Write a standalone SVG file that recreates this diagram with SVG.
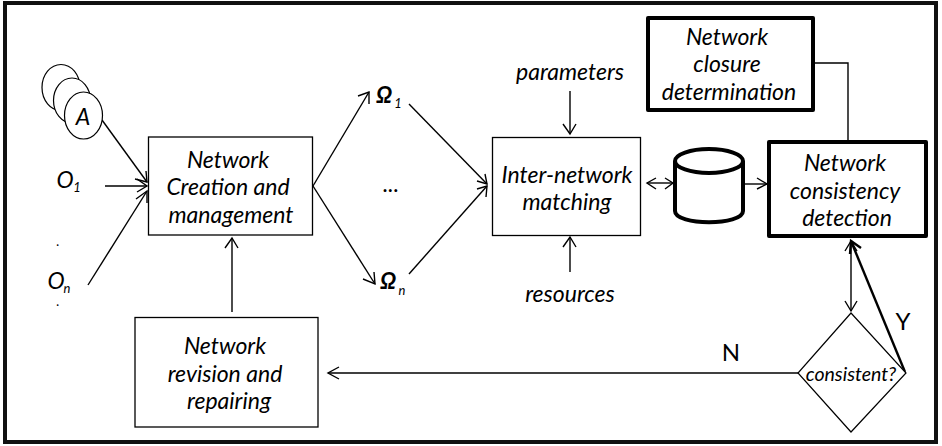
<svg xmlns="http://www.w3.org/2000/svg" width="942" height="446" viewBox="0 0 942 446">
<style>
text{font-family:Lato,"Liberation Sans",sans-serif;font-style:italic;font-size:23px;fill:#000;text-anchor:middle}
.up{font-style:normal;font-size:24px}
.sub{font-size:13px}
.box{fill:#fff;stroke:#000;stroke-width:1.3}
.thick{fill:#fff;stroke:#000;stroke-width:4;stroke-linejoin:round}
.c{fill:none;stroke:#000;stroke-width:1.4}
.b{fill:none;stroke:#000;stroke-width:2.4}
.h{fill:none;stroke:#000;stroke-width:1.4}
</style>
<rect x="5" y="3" width="931" height="439" fill="#fff" stroke="#111" stroke-width="4"/>
<g id="connectors">
<path class="c" d="M102 120L147 182"/><path class="h" d="M135 179L147 182L146 171"/>
<path class="c" d="M105 186H147"/><path class="h" d="M137 179L147 186L137 192"/>
<path class="c" d="M88 285L147 191"/><path class="h" d="M136 199L147 191L147 203"/>
<path class="c" d="M232 312V238"/><path class="h" d="M225 248L232 238L238 248"/>
<path class="c" d="M313 186L369 92"/><path class="h" d="M358 96L369 92L369 104"/>
<path class="c" d="M313 186L375 284"/><path class="h" d="M363 279L375 284L374 272"/>
<path class="c" d="M409 104L487 184"/><path class="h" d="M477 181L487 184L485 174"/>
<path class="c" d="M409 274L487 186"/><path class="h" d="M477 189L487 186L486 197"/>
<path class="c" d="M570 91V134"/><path class="h" d="M563 124L570 134L576 124"/>
<path class="c" d="M570 272V237"/><path class="h" d="M563 247L570 237L576 247"/>
<path class="c" d="M647 183H673"/><path class="h" d="M656 178L647 183L656 189M665 178L673 183L665 189"/>
<path class="c" d="M743 184H767"/><path class="h" d="M757 178L767 184L757 189"/>
<path class="c" d="M814 63H848V142"/>
<path class="c" d="M851 241V311"/><path class="h" d="M845 301L851 311L857 301M845 251L851 241L857 251"/>
<path class="b" d="M905 372L851 241"/><path class="b" d="M850 254L851 241L861 248"/>
<path class="c" d="M798 373H328"/><path class="h" d="M339 367L328 373L339 379"/>
</g>
<g id="agent-3"><ellipse cx="61" cy="87.5" rx="19" ry="23" fill="#fff" stroke="#000" stroke-width="1.2"/></g>
<g id="agent-2"><ellipse cx="72" cy="100.5" rx="18.5" ry="22.5" fill="#fff" stroke="#000" stroke-width="1.2"/></g>
<g id="agent-1"><ellipse cx="83.5" cy="115.5" rx="19" ry="23.5" fill="#fff" stroke="#000" stroke-width="1.2"/><text x="83" y="125">A</text></g>
<g id="o1"><text x="65" y="188">O</text><text class="sub" x="77" y="192">1</text></g>
<g id="dot1"><text class="sub" x="58" y="246">.</text></g>
<g id="on"><text x="56" y="289">O</text><text class="sub" x="67" y="293">n</text></g>
<g id="dot2"><text class="sub" x="58" y="306">.</text></g>
<g id="creation"><rect class="box" x="148.5" y="137" width="164" height="98"/><text x="228" y="168">Network</text><text x="228" y="195">Creation and</text><text x="231" y="223">management</text></g>
<g id="revision"><rect class="box" x="135" y="317.5" width="183" height="109.5"/><text x="225" y="354">Network</text><text x="225" y="382">revision and</text><text x="229" y="409">repairing</text></g>
<g id="omega1"><text x="384" y="103" font-weight="700">Ω</text><text class="sub" x="398" y="108">1</text></g>
<g id="ellipsis"><text x="391" y="192">...</text></g>
<g id="omegan"><text x="388" y="289" font-weight="700">Ω</text><text class="sub" x="402" y="295">n</text></g>
<g id="parameters"><text x="570" y="80">parameters</text></g>
<g id="resources"><text x="570" y="302">resources</text></g>
<g id="matching"><rect class="box" x="492.5" y="137.5" width="148" height="98"/><text x="567" y="183">Inter-network</text><text x="567" y="210">matching</text></g>
<g id="database"><path class="thick" d="M675 161V211C675 226 743 226 743 211V161"/><ellipse class="thick" cx="709" cy="161" rx="34" ry="12"/></g>
<g id="closure"><rect class="thick" x="648" y="18" width="165" height="92"/><text x="727" y="45">Network</text><text x="727" y="72">closure</text><text x="729" y="100">determination</text></g>
<g id="consistency"><rect class="thick" x="769" y="142" width="157" height="94"/><text x="845" y="171">Network</text><text x="845" y="199">consistency</text><text x="847" y="226">detection</text></g>
<g id="decision"><path d="M851 313L906 373L851 432L798 373Z" fill="#fff" stroke="#000" stroke-width="1.2"/><text x="851" y="381" style="font-size:19.5px">consistent?</text></g>
<g id="label-y"><text class="up" x="903" y="330">Y</text></g>
<g id="label-n"><text class="up" x="731" y="361">N</text></g>
</svg>
